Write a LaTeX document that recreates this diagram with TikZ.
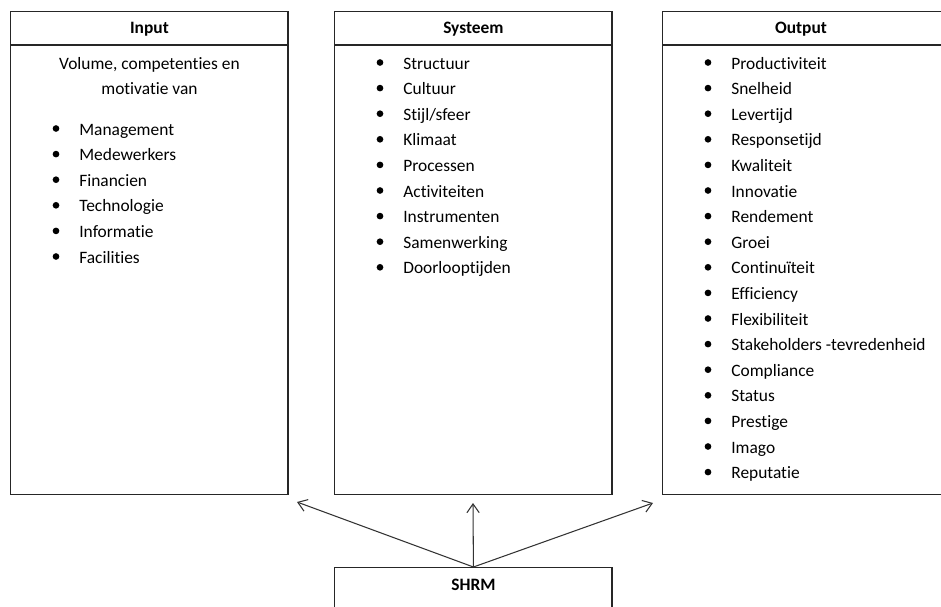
\documentclass[tikz,border=0pt]{standalone}
\usepackage{fontspec}
\setmainfont{Carlito}[Ligatures={NoCommon}]
\usetikzlibrary{calc}
\usetikzlibrary{arrows.meta}

\tikzset{
	box/.style={draw=black!85, line width=0.8pt, anchor=north west, inner sep=0pt, minimum width=5.55cm, minimum height=9.66cm},
	rule/.style={draw=black!85, line width=0.8pt},
	header/.style={anchor=base, inner sep=0pt, font=\fontsize{9.9}{12}\selectfont\bfseries},
	entry/.style={anchor=base west, inner sep=0pt, font=\fontsize{9.9}{12}\selectfont},
	link/.style={draw=black!80, line width=0.6pt, -{Straight Barb[length=5pt,width=7pt]}}
}

\begin{document}
\begin{tikzpicture}[x=0.02cm, y=-0.02cm]

	\clip (0,0) rectangle (941,606);

% Define coordinates.

	%arrow tips
	\coordinate (inputTip) at (297,502);
	\coordinate (systeemTip) at (473,503);
	\coordinate (outputTip) at (653,503);

% Draw boxes.

	\node[box] (input) at (10,11) {};
	\node[box] (systeem) at (334,11) {};
	\node[box, minimum width=6cm] (output) at (662,11) {};
	\node[box, minimum height=2cm] (shrm) at (334,567) {};

	\draw[rule] ($(input.north west)+(0,34)$) -- ($(input.north east)+(0,34)$);
	\draw[rule] ($(systeem.north west)+(0,34)$) -- ($(systeem.north east)+(0,34)$);
	\draw[rule] ($(output.north west)+(0,34)$) -- ($(output.north east)+(0,34)$);

% Draw titles.

	\node[header] (inputTitle) at ($(input.north)+(0,22.5)$) {Input};
	\node[header] (systeemTitle) at ($(systeem.north)+(0,22.5)$) {Systeem};
	\node[header] (outputTitle) at (801,33.5) {Output};
	\node[header] (shrmTitle) at ($(shrm.north)+(0,23)$) {SHRM};

% Draw lists.

	\node[entry, anchor=base] (intro1) at ($(input.north)+(0,58)$) {Volume, competenties en};
	\node[entry, anchor=base] (intro2) at ($(input.north)+(0,83)$) {motivatie van};

	\foreach \txt [count=\i from 0] in {Management, Medewerkers, Financien, Technologie, Informatie, Facilities} {
		\node[entry] (in\i) at (79, 135+25.6*\i) {\txt};
		\fill ($(in\i.base west)+(-23,-6.5)$) circle (1.9pt);
	}

	\foreach \txt [count=\i from 0] in {Structuur, Cultuur, Stijl/sfeer, Klimaat, Processen, Activiteiten, Instrumenten, Samenwerking, Doorlooptijden} {
		\node[entry] (sys\i) at (403, 69+25.6*\i) {\txt};
		\fill ($(sys\i.base west)+(-23,-6.5)$) circle (1.9pt);
	}

	\foreach \txt [count=\i from 0] in {Productiviteit, Snelheid, Levertijd, Responsetijd, Kwaliteit, Innovatie, Rendement, Groei, Continuïteit, Efficiency, Flexibiliteit, Stakeholders -tevredenheid, Compliance, Status, Prestige, Imago, Reputatie} {
		\node[entry] (out\i) at (731, 69+25.6*\i) {\txt};
		\fill ($(out\i.base west)+(-23,-6.5)$) circle (1.9pt);
	}

% Draw arrows.

	\draw[link] (shrm.north) -- (inputTip);
	\draw[link] (shrm.north) -- (systeemTip);
	\draw[link] (shrm.north) -- (outputTip);

\end{tikzpicture}
\end{document}
